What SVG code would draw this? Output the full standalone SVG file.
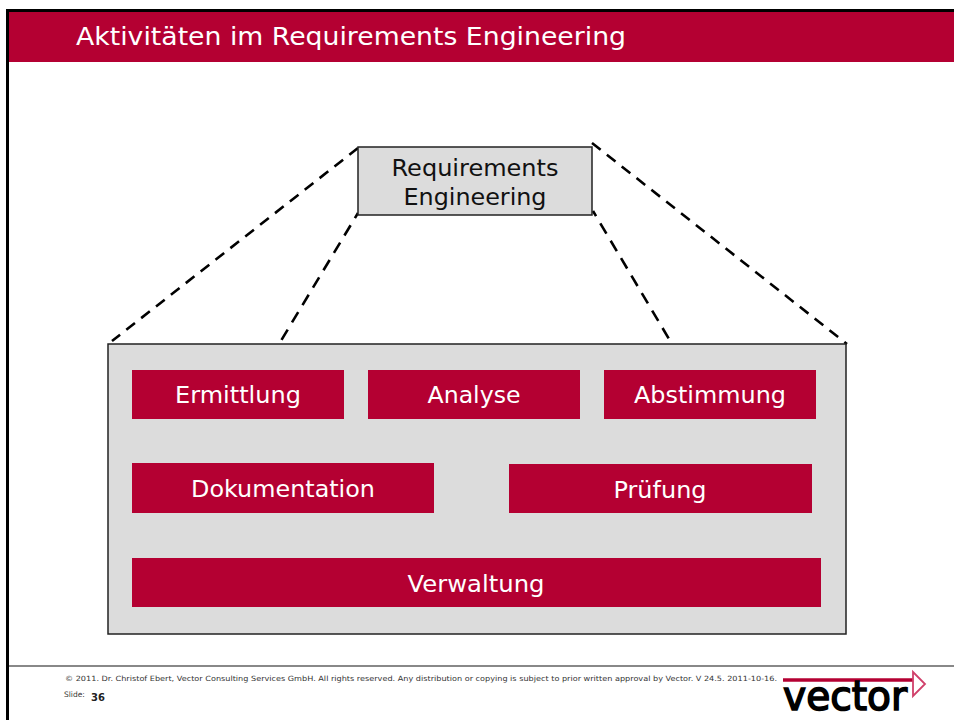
<svg xmlns="http://www.w3.org/2000/svg" width="954" height="720" viewBox="0 0 954 720">
<style>
text{font-family:"DejaVu Sans",Verdana,sans-serif}
.w{fill:#fff;font-size:23.5px;text-anchor:middle}
.r{fill:#b40032}
.d{fill:none;stroke:#000;stroke-width:2.6;stroke-dasharray:11 7.9}
.e{stroke-dasharray:12 8.3;stroke-dashoffset:6}
.g{fill:#dcdcdc;stroke:#222;stroke-width:1.5}
</style>
<rect width="954" height="720" fill="#fff"/>
<g id="frame"><path d="M7.5 720V10.5H954" fill="none" stroke="#000" stroke-width="3"/></g>
<g id="header"><rect x="9" y="12" width="945" height="50" class="r"/><text x="76" y="45" fill="#fff" font-size="24.5" textLength="550" lengthAdjust="spacingAndGlyphs">Aktivitäten im Requirements Engineering</text></g>
<g id="connectors">
<line class="d" x1="358" y1="148" x2="112" y2="341"/>
<line class="d e" x1="358" y1="213" x2="279" y2="344"/>
<line class="d" x1="592" y1="143" x2="847" y2="344"/>
<line class="d e" x1="593" y1="211" x2="672" y2="344"/>
</g>
<g id="requirements-engineering"><rect x="358" y="147" width="234" height="68" class="g"/><text x="475" y="176" font-size="23.5" text-anchor="middle" fill="#111" textLength="167" lengthAdjust="spacingAndGlyphs">Requirements</text><text x="475" y="205" font-size="23.5" text-anchor="middle" fill="#111" textLength="143" lengthAdjust="spacingAndGlyphs">Engineering</text></g>
<g id="container"><rect x="108" y="344" width="738" height="290" class="g"/></g>
<g id="ermittlung"><rect x="132" y="370" width="212" height="49" class="r"/><text x="238" y="403" class="w" textLength="126" lengthAdjust="spacingAndGlyphs">Ermittlung</text></g>
<g id="analyse"><rect x="368" y="370" width="212" height="49" class="r"/><text x="474" y="403" class="w" textLength="93" lengthAdjust="spacingAndGlyphs">Analyse</text></g>
<g id="abstimmung"><rect x="604" y="370" width="212" height="49" class="r"/><text x="710" y="403" class="w" textLength="152" lengthAdjust="spacingAndGlyphs">Abstimmung</text></g>
<g id="dokumentation"><rect x="132" y="463" width="302" height="50" class="r"/><text x="283" y="497" class="w" textLength="184" lengthAdjust="spacingAndGlyphs">Dokumentation</text></g>
<g id="pruefung"><rect x="509" y="464" width="303" height="49" class="r"/><text x="660" y="498" class="w" textLength="93" lengthAdjust="spacingAndGlyphs">Prüfung</text></g>
<g id="verwaltung"><rect x="132" y="558" width="689" height="49" class="r"/><text x="476" y="592" class="w" textLength="137" lengthAdjust="spacingAndGlyphs">Verwaltung</text></g>
<g id="footer">
<line x1="9" y1="666" x2="954" y2="666" stroke="#888" stroke-width="2"/>
<text x="65" y="681" font-size="7.2" fill="#333" textLength="712" lengthAdjust="spacingAndGlyphs">© 2011. Dr. Christof Ebert, Vector Consulting Services GmbH. All rights reserved. Any distribution or copying is subject to prior written approval by Vector. V 24.5. 2011-10-16.</text>
<text x="64" y="697" font-size="7.5" fill="#333">Slide:</text>
<text x="91" y="701" font-size="10" font-weight="bold" fill="#222">36</text>
</g>
<g id="logo">
<line x1="783" y1="680" x2="914" y2="680" stroke="#b40032" stroke-width="3.5"/>
<path d="M913 672L925 684L913 696Z" fill="#fff" stroke="#d0406a" stroke-width="1.8"/>
<text x="783" y="710" font-size="40" fill="#000" stroke="#000" stroke-width="1.6" textLength="124" lengthAdjust="spacingAndGlyphs">vector</text>
</g>
</svg>
